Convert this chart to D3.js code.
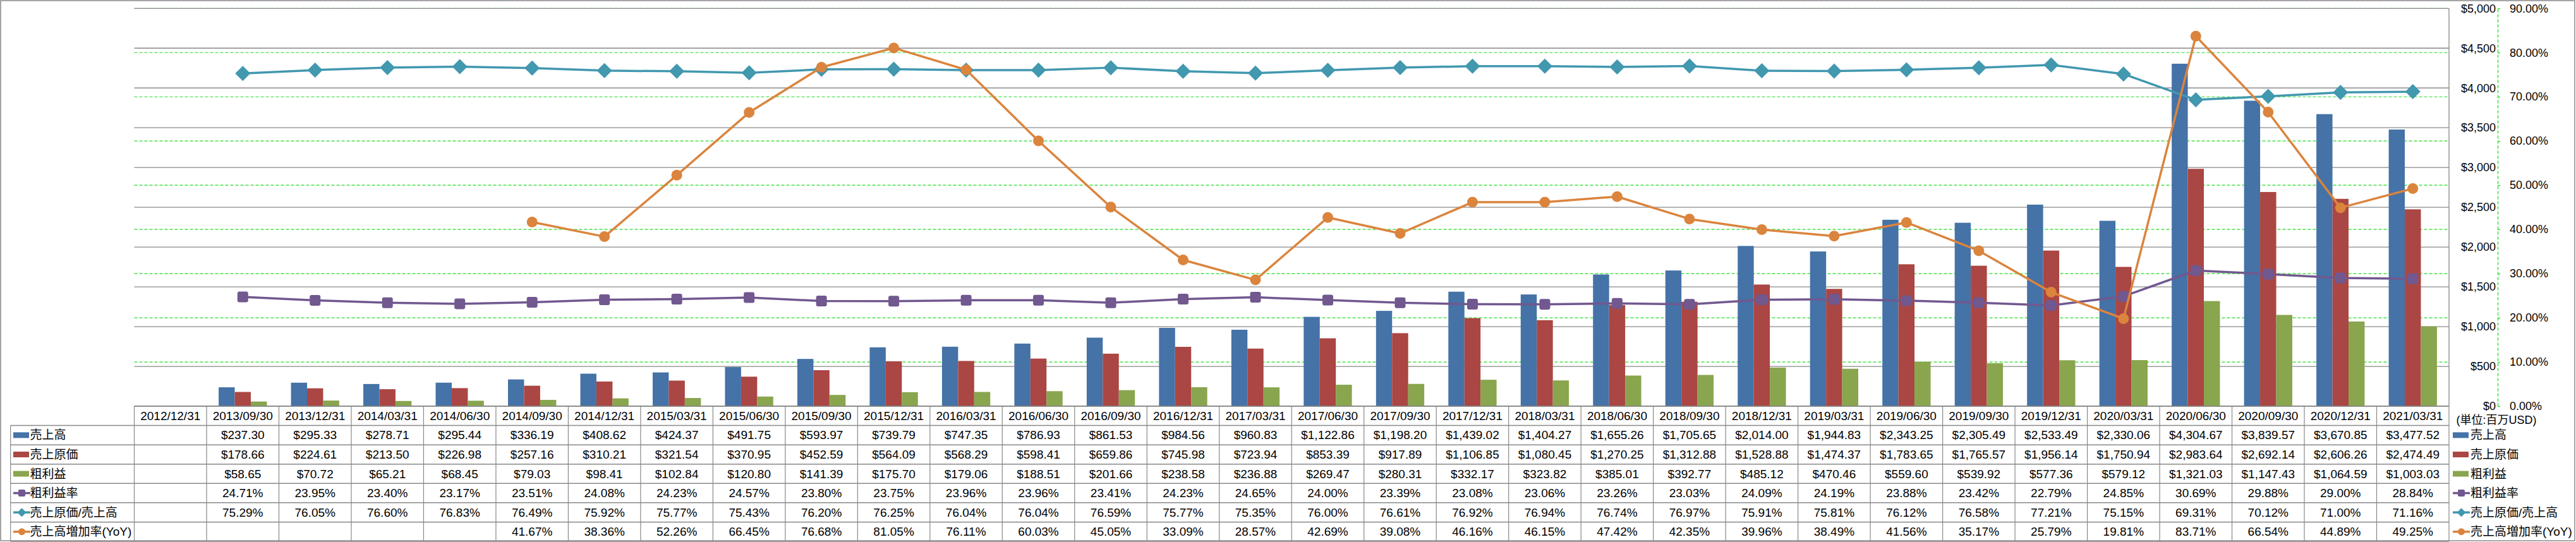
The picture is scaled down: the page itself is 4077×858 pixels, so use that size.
<!DOCTYPE html>
<html><head><meta charset="utf-8">
<script src="https://cdn.jsdelivr.net/npm/d3@7"></script>
<style>
html,body{margin:0;padding:0;background:#fff;}
text{font-family:"Liberation Sans","Noto Sans CJK JP",sans-serif;fill:#000;}
</style></head>
<body>
<svg id="chart" width="4077" height="858"></svg>
<script>
const categories = ["2012/12/31","2013/09/30","2013/12/31","2014/03/31","2014/06/30","2014/09/30","2014/12/31","2015/03/31","2015/06/30","2015/09/30","2015/12/31","2016/03/31","2016/06/30","2016/09/30","2016/12/31","2017/03/31","2017/06/30","2017/09/30","2017/12/31","2018/03/31","2018/06/30","2018/09/30","2018/12/31","2019/03/31","2019/06/30","2019/09/30","2019/12/31","2020/03/31","2020/06/30","2020/09/30","2020/12/31","2021/03/31"];
const revenue = [null,237.30,295.33,278.71,295.44,336.19,408.62,424.37,491.75,593.97,739.79,747.35,786.93,861.53,984.56,960.83,1122.86,1198.20,1439.02,1404.27,1655.26,1705.65,2014.00,1944.83,2343.25,2305.49,2533.49,2330.06,4304.67,3839.57,3670.85,3477.52];
const cogs = [null,178.66,224.61,213.50,226.98,257.16,310.21,321.54,370.95,452.59,564.09,568.29,598.41,659.86,745.98,723.94,853.39,917.89,1106.85,1080.45,1270.25,1312.88,1528.88,1474.37,1783.65,1765.57,1956.14,1750.94,2983.64,2692.14,2606.26,2474.49];
const grossProfit = [null,58.65,70.72,65.21,68.45,79.03,98.41,102.84,120.80,141.39,175.70,179.06,188.51,201.66,238.58,236.88,269.47,280.31,332.17,323.82,385.01,392.77,485.12,470.46,559.60,539.92,577.36,579.12,1321.03,1147.43,1064.59,1003.03];
const grossMargin = [null,24.71,23.95,23.40,23.17,23.51,24.08,24.23,24.57,23.80,23.75,23.96,23.96,23.41,24.23,24.65,24.00,23.39,23.08,23.06,23.26,23.03,24.09,24.19,23.88,23.42,22.79,24.85,30.69,29.88,29.00,28.84];
const cogsRatio = [null,75.29,76.05,76.60,76.83,76.49,75.92,75.77,75.43,76.20,76.25,76.04,76.04,76.59,75.77,75.35,76.00,76.61,76.92,76.94,76.74,76.97,75.91,75.81,76.12,76.58,77.21,75.15,69.31,70.12,71.00,71.16];
const yoy = [null,null,null,null,null,41.67,38.36,52.26,66.45,76.68,81.05,76.11,60.03,45.05,33.09,28.57,42.69,39.08,46.16,46.15,47.42,42.35,39.96,38.49,41.56,35.17,25.79,19.81,83.71,66.54,44.89,49.25];
const dollarTicks = [0,500,1000,1500,2000,2500,3000,3500,4000,4500,5000];
const pctTicks = [0,10,20,30,40,50,60,70,80,90];
const unitLabel = "(単位:百万USD)";

const barSeries = [
  {name:"売上高", values:revenue, color:"#4572A7"},
  {name:"売上原価", values:cogs, color:"#AA4643"},
  {name:"粗利益", values:grossProfit, color:"#89A54E"}
];
const lineSeries = [
  {name:"粗利益率", values:grossMargin, color:"#71588F", marker:"square"},
  {name:"売上原価/売上高", values:cogsRatio, color:"#4198AF", marker:"diamond"},
  {name:"売上高増加率(YoY)", values:yoy, color:"#DB843D", marker:"circle"}
];

const svg = d3.select("#chart");
const L = 212.5, R = 3876, T = 13.3, B = 643;
const labelLeft = 16.7;
const rowH = (857 - 643) / 7;

const x = d3.scaleBand().domain(categories).range([L, R]).paddingInner(0).paddingOuter(0);
const xs = d3.scaleBand().domain(barSeries.map(s=>s.name)).range([0, x.bandwidth()]).paddingInner(0).paddingOuter(0.75);
const yD = d3.scaleLinear().domain([0,5000]).range([B, T]);
const yP = d3.scaleLinear().domain([0,90]).range([B, T]);

// outer border
svg.append("rect").attr("x",1).attr("y",1).attr("width",4074).attr("height",855)
  .attr("fill","none").attr("stroke","#888").attr("stroke-width",1.5);

// green dashed gridlines (percent)
svg.append("g").selectAll("line").data(pctTicks).join("line")
  .attr("x1",L).attr("x2",R).attr("y1",d=>yP(d)).attr("y2",d=>yP(d))
  .attr("stroke","#22DD22").attr("stroke-width",1.2).attr("stroke-dasharray","5,3");
// gray gridlines (dollar)
svg.append("g").selectAll("line").data(dollarTicks).join("line")
  .attr("x1",L).attr("x2",R).attr("y1",d=>yD(d)).attr("y2",d=>yD(d))
  .attr("stroke","#888").attr("stroke-width",1.3);
// plot right border
svg.append("line").attr("x1",R).attr("x2",R).attr("y1",T).attr("y2",B).attr("stroke","#888").attr("stroke-width",1.3);

// bars
const gBars = svg.append("g");
barSeries.forEach(s=>{
  gBars.append("g").selectAll("rect")
    .data(categories.map((c,i)=>({c, v:s.values[i]})).filter(d=>d.v!=null))
    .join("rect")
    .attr("x",d=>x(d.c)+xs(s.name)).attr("width",xs.bandwidth())
    .attr("y",d=>yD(d.v)).attr("height",d=>yD(0)-yD(d.v))
    .attr("fill",s.color);
});

// markers
function drawMarker(g, type, cx, cy, size, color){
  if(type==="square"){
    g.append("rect").attr("x",cx-size/2).attr("y",cy-size/2).attr("width",size).attr("height",size)
      .attr("rx",size*0.18).attr("fill",color);
  } else if(type==="diamond"){
    const h=size/2;
    g.append("path").attr("d",`M${cx},${cy-h}L${cx+h},${cy}L${cx},${cy+h}L${cx-h},${cy}Z`).attr("fill",color);
  } else {
    g.append("circle").attr("cx",cx).attr("cy",cy).attr("r",size/2).attr("fill",color);
  }
}
const markerSize = {square:17, diamond:24, circle:17};

// lines
lineSeries.forEach(s=>{
  const pts = categories.map((c,i)=>({c, v:s.values[i]}));
  const line = d3.line().defined(d=>d.v!=null).x(d=>x(d.c)+x.bandwidth()/2).y(d=>yP(d.v));
  const g = svg.append("g");
  g.append("path").datum(pts).attr("d",line).attr("fill","none")
    .attr("stroke",s.color).attr("stroke-width",3.5).attr("stroke-linejoin","round");
  pts.filter(d=>d.v!=null).forEach(d=>drawMarker(g, s.marker, x(d.c)+x.bandwidth()/2, yP(d.v), markerSize[s.marker], s.color));
});

// dollar axis labels (right side, no line)
const axD = svg.append("g").attr("transform",`translate(3953,0)`)
  .call(d3.axisLeft(yD).tickValues(dollarTicks).tickSize(0).tickPadding(3).tickFormat(d3.format("$,")));
axD.select(".domain").remove();
axD.selectAll("text").attr("font-size",18).attr("font-family",'"Liberation Sans",sans-serif').attr("fill","#000");

// percent axis
const axP = svg.append("g").attr("transform",`translate(3953,0)`)
  .call(d3.axisRight(yP).tickValues(pctTicks).tickSize(4).tickSizeOuter(0).tickPadding(15).tickFormat(d=>d.toFixed(2)+"%"));
axP.select(".domain").attr("stroke","#22DD22").attr("stroke-width",1.3).attr("stroke-dasharray","5,3");
axP.selectAll(".tick line").attr("stroke","#22DD22").attr("stroke-width",1.3);
axP.selectAll("text").attr("font-size",18).attr("font-family",'"Liberation Sans",sans-serif').attr("fill","#000");

svg.append("text").attr("x",3951).attr("y",665).attr("text-anchor","middle").attr("dominant-baseline","central")
  .attr("font-size",18).text(unitLabel);

// data table
const tbl = svg.append("g");
const rows = [
  ...barSeries.map(s=>({s, kind:"bar", fmt:v=>d3.format("$,.2f")(v)})),
  ...lineSeries.map(s=>({s, kind:"line", fmt:v=>v.toFixed(2)+"%"}))
];
const lineColor = "#888";
// header top
tbl.append("line").attr("x1",L).attr("x2",R).attr("y1",B).attr("y2",B).attr("stroke",lineColor).attr("stroke-width",1.5);
// row lines
d3.range(1,8).forEach(k=>{
  tbl.append("line").attr("x1",labelLeft).attr("x2",R).attr("y1",B+k*rowH).attr("y2",B+k*rowH)
    .attr("stroke",lineColor).attr("stroke-width",1.5);
});
// vertical lines
categories.forEach(c=>{
  tbl.append("line").attr("x1",x(c)).attr("x2",x(c)).attr("y1",B).attr("y2",B+7*rowH).attr("stroke",lineColor).attr("stroke-width",1.2);
});
tbl.append("line").attr("x1",R).attr("x2",R).attr("y1",B).attr("y2",B+7*rowH).attr("stroke",lineColor).attr("stroke-width",1.2);
tbl.append("line").attr("x1",labelLeft).attr("x2",labelLeft).attr("y1",B+rowH).attr("y2",B+7*rowH).attr("stroke",lineColor).attr("stroke-width",1.2);

// header text
tbl.selectAll("text.hdr").data(categories).join("text").attr("class","hdr")
  .attr("x",d=>x(d)+x.bandwidth()/2).attr("y",B+rowH/2).attr("text-anchor","middle").attr("dominant-baseline","central")
  .attr("font-size",19).text(d=>d);

function legendKey(g, r, kx, cy){
  if(r.kind==="bar"){
    g.append("rect").attr("x",kx).attr("y",cy-4.5).attr("width",25).attr("height",9).attr("fill",r.s.color);
  } else {
    g.append("line").attr("x1",kx).attr("x2",kx+27).attr("y1",cy).attr("y2",cy).attr("stroke",r.s.color).attr("stroke-width",3.5);
    drawMarker(g, r.s.marker, kx+13.5, cy, r.s.marker==="diamond"?14:11, r.s.color);
  }
}

rows.forEach((r,ri)=>{
  const cy = B + (ri+1.5)*rowH;
  legendKey(tbl, r, 21, cy);
  tbl.append("text").attr("x",47.5).attr("y",cy).attr("dominant-baseline","central").attr("font-size",19).text(r.s.name);
  tbl.append("g").selectAll("text").data(categories.map((c,i)=>({c,v:r.s.values[i]})).filter(d=>d.v!=null))
    .join("text").attr("x",d=>x(d.c)+x.bandwidth()/2).attr("y",cy).attr("text-anchor","middle")
    .attr("dominant-baseline","central").attr("font-size",19).text(d=>r.fmt(d.v));
  // right legend
  legendKey(svg, r, 3882, cy);
  svg.append("text").attr("x",3910).attr("y",cy).attr("dominant-baseline","central").attr("font-size",19).text(r.s.name);
});
</script>
</body></html>
